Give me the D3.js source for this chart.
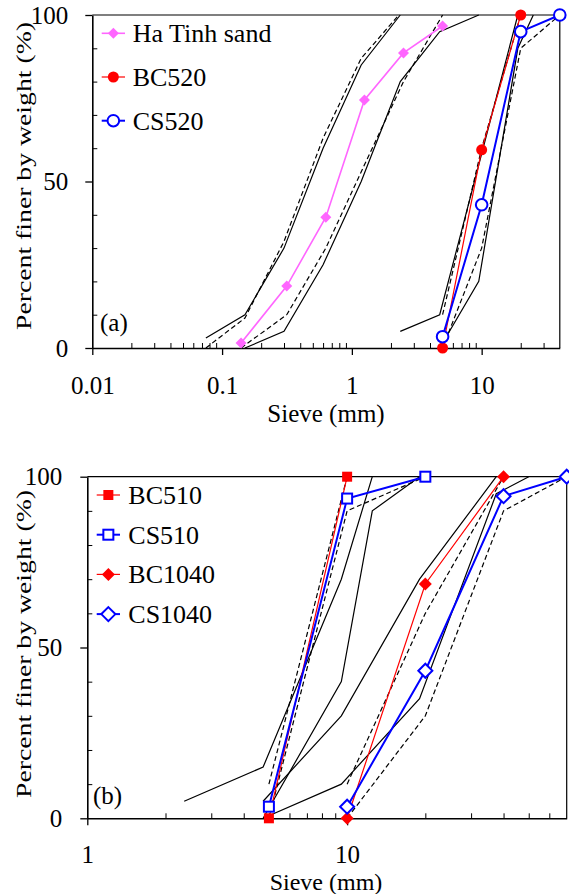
<!DOCTYPE html>
<html>
<head>
<meta charset="utf-8">
<script src="https://cdn.jsdelivr.net/npm/d3@7"></script>
<style>
  body { margin: 0; background: #fff; }
  svg, svg text { font-family: "Liberation Serif", "DejaVu Serif", "Times New Roman", serif; }
  svg { display: block; }
</style>
</head>
<body>
<svg id="chart" width="569" height="894"></svg>
<script>
'use strict';

// ---- panel (a): measured series ----
const sandSieve   = [0.14, 0.315, 0.63, 1.25, 2.5, 5];
const haTinhSand  = [1.5, 18.6, 39.3, 74.5, 88.6, 96.7];
const sieve520bc  = [5, 10, 20];
const bc520       = [0, 59.5, 100];
const sieve520cs  = [5, 10, 20, 40];
const cs520       = [3.4, 43, 95, 100];

// panel (a): grading limits [sieve, % passing]
const sandUpperSolid   = [[0.075, 3], [0.15, 10], [0.3, 30], [0.6, 60], [1.18, 85], [2.36, 100]];
const sandLowerSolid   = [[0.15, 0], [0.3, 5], [0.6, 25], [1.18, 50], [2.36, 80], [4.75, 95], [9.5, 100]];
const sandUpperDashed  = [[0.075, 0], [0.15, 9], [0.3, 32], [0.6, 63], [1.18, 87], [2.3, 100]];
const sandLowerDashed  = [[0.14, 0], [0.315, 10], [0.63, 30], [1.25, 55], [2.5, 80], [5, 100]];
const g520UpperSolid   = [[2.36, 5], [4.75, 10], [9.5, 55], [19, 100]];
const g520LowerSolid   = [[4.75, 0], [9.5, 20], [19, 90], [25, 100]];
const g520UpperDashed  = [[5, 10], [10, 60], [20, 100]];
const g520LowerDashed  = [[5, 0], [10, 30], [20, 90], [40, 100]];

// ---- panel (b): measured series ----
const sieve510bc  = [5, 10];
const bc510       = [0, 100];
const sieve510cs  = [5, 10, 20];
const cs510       = [3.4, 93.6, 100];
const sieve1040bc = [10, 20, 40];
const bc1040      = [0, 68.6, 100];
const sieve1040cs = [10, 20, 40, 70];
const cs1040      = [3.4, 43.2, 94.3, 100];

// panel (b): grading limits
const g7UpperSolid     = [[2.36, 5], [4.75, 15], [9.5, 70], [12.5, 100]];
const g7LowerSolid     = [[4.75, 0], [9.5, 40], [12.5, 90], [19, 100]];
const g467UpperSolid   = [[4.75, 5], [9.5, 30], [19, 70], [37.5, 100]];
const g467LowerSolid   = [[4.75, 0], [9.5, 10], [19, 35], [37.5, 95], [50, 100]];
const g510UpperDashed  = [[5, 10], [10, 100]];
const g510LowerDashed  = [[5, 0], [10, 90], [20, 100]];
const g1040UpperDashed = [[10, 10], [20, 60], [40, 100]];
const g1040LowerDashed = [[10, 0], [20, 30], [40, 90], [70, 100]];

const yMajor = [0, 50, 100];
const yMinor = [10, 20, 30, 40, 60, 70, 80, 90];

const svg = d3.select('#chart');
const FS = 25;
const SERIF = '"Liberation Serif", "DejaVu Serif", "Times New Roman", serif';

function minorLogTicks(lo, hi) {
  const out = [];
  for (let dec = lo; dec < hi; dec *= 10) {
    for (let m = 2; m <= 9; m++) {
      const v = +(m * dec).toPrecision(3);
      if (v < hi) out.push(v);
    }
  }
  return out;
}

function marker(sel, shape, size, fill, stroke, sw) {
  let m;
  if (shape === 'circle') {
    m = sel.append('circle').attr('r', size);
  } else if (shape === 'square') {
    m = sel.append('rect').attr('x', -size).attr('y', -size).attr('width', 2 * size).attr('height', 2 * size);
  } else {
    m = sel.append('path').attr('d', `M0,${-size}L${size},0L0,${size}L${-size},0Z`);
  }
  m.attr('fill', fill).attr('stroke', stroke).attr('stroke-width', sw);
  return m;
}

function panel(cfg) {
  const x = d3.scaleLog().domain(cfg.xDomain).range([cfg.left, cfg.right]);
  const y = d3.scaleLinear().domain([0, 100]).range([cfg.bottom, cfg.top]);
  const g = svg.append('g').attr('font-family', SERIF);

  // top / right frame
  g.append('path')
    .attr('d', `M${cfg.left},${cfg.top}H${cfg.right}V${cfg.bottom}`)
    .attr('fill', 'none').attr('stroke', '#000').attr('stroke-width', 1.2);

  // x axis: major ticks outward with labels, minor ticks inward
  const xa = g.append('g').attr('transform', `translate(0,${cfg.bottom})`)
    .call(d3.axisBottom(x).tickValues(cfg.xMajor).tickSize(7).tickSizeOuter(0).tickFormat(d => String(d)))
    .attr('font-family', SERIF).attr('font-size', FS);
  xa.select('.domain').attr('stroke-width', 1.6);
  xa.selectAll('.tick line').attr('stroke-width', 1.3);
  xa.selectAll('text').attr('y', cfg.xLabY).attr('dy', null).attr('fill', '#000');
  g.append('g').attr('transform', `translate(0,${cfg.bottom})`)
    .call(d3.axisTop(x).tickValues(minorLogTicks(cfg.xDomain[0], cfg.xDomain[1])).tickSize(5).tickFormat(''))
    .call(s => s.select('.domain').remove());

  // y axis: major outward with labels, minor inward
  const ya = g.append('g').attr('transform', `translate(${cfg.left},0)`)
    .call(d3.axisLeft(y).tickValues(yMajor).tickSize(7).tickSizeOuter(0))
    .attr('font-family', SERIF).attr('font-size', FS);
  ya.select('.domain').attr('stroke-width', 1.6);
  ya.selectAll('.tick line').attr('stroke-width', 1.3);
  ya.selectAll('text').attr('x', -cfg.ylabGap).attr('dy', '0.33em').attr('fill', '#000');
  g.append('g').attr('transform', `translate(${cfg.left},0)`)
    .call(d3.axisRight(y).tickValues(yMinor).tickSize(5).tickFormat(''))
    .call(s => s.select('.domain').remove());

  // axis titles
  g.append('text')
    .attr('x', 326).attr('y', cfg.xTitleY)
    .attr('text-anchor', 'middle').attr('font-size', cfg.xTitleFs)
    .text('Sieve (mm)');
  g.append('text')
    .attr('transform', `translate(31,${cfg.yTitleC}) rotate(-90)`)
    .attr('text-anchor', 'middle').attr('font-size', 22)
    .attr('textLength', 308).attr('lengthAdjust', 'spacingAndGlyphs')
    .text('Percent finer by weight (%)');

  // panel tag
  g.append('text').attr('x', cfg.tag[1]).attr('y', cfg.tag[2])
    .attr('font-size', FS).text(cfg.tag[0]);

  // grading limits
  const line = d3.line().x(d => x(d[0])).y(d => y(d[1]));
  cfg.limits.forEach(l => {
    g.append('path').attr('d', line(l.pts))
      .attr('fill', 'none').attr('stroke', '#000')
      .attr('stroke-width', 1.2)
      .attr('stroke-dasharray', l.dashed ? '5,3' : null);
  });

  // measured series
  cfg.series.forEach(s => {
    const pts = s.sieve.map((v, i) => [v, s.pass[i]]);
    g.append('path').attr('d', line(pts))
      .attr('fill', 'none').attr('stroke', s.color).attr('stroke-width', s.lw);
    pts.forEach(p => {
      const mg = g.append('g').attr('transform', `translate(${x(p[0])},${y(p[1])})`);
      marker(mg, s.shape, s.size, s.open ? '#fff' : s.color, s.color, s.open ? s.lw : 0);
    });
  });

  // legend
  cfg.series.forEach((s, i) => {
    const ly = cfg.legend.y0 + i * cfg.legend.dy;
    const lg = g.append('g');
    lg.append('line')
      .attr('x1', cfg.legend.x1).attr('x2', cfg.legend.x2)
      .attr('y1', ly).attr('y2', ly)
      .attr('stroke', s.color).attr('stroke-width', s.lw);
    const mg = lg.append('g').attr('transform', `translate(${(cfg.legend.x1 + cfg.legend.x2) / 2},${ly})`);
    marker(mg, s.shape, s.size, s.open ? '#fff' : s.color, s.color, s.open ? s.lw : 0);
    lg.append('text').attr('x', cfg.legend.tx).attr('y', ly + 9)
      .attr('font-size', 26).text(s.name);
  });
}

panel({
  left: 92.3, right: 559.8, top: 15, bottom: 348,
  xDomain: [0.01, 40], xMajor: [0.01, 0.1, 1, 10],
  ylabGap: 24, xLabY: 46, xTitleY: 422, xTitleFs: 25, yTitleC: 176,
  tag: ['(a)', 100, 331],
  limits: [
    { pts: sandUpperSolid }, { pts: sandLowerSolid },
    { pts: sandUpperDashed, dashed: true }, { pts: sandLowerDashed, dashed: true },
    { pts: g520UpperSolid }, { pts: g520LowerSolid },
    { pts: g520UpperDashed, dashed: true }, { pts: g520LowerDashed, dashed: true }
  ],
  series: [
    { name: 'Ha Tinh sand', sieve: sandSieve, pass: haTinhSand, color: '#ff66ff', lw: 1.6, shape: 'diamond', size: 5.5 },
    { name: 'BC520', sieve: sieve520bc, pass: bc520, color: '#ff0000', lw: 1.2, shape: 'circle', size: 5.5 },
    { name: 'CS520', sieve: sieve520cs, pass: cs520, color: '#0000ff', lw: 2, shape: 'circle', size: 5.8, open: true }
  ],
  legend: { x1: 101.7, x2: 125, tx: 132.7, y0: 33.3, dy: 43.7 }
});

panel({
  left: 87.3, right: 566.7, top: 476.7, bottom: 818.3,
  xDomain: [1, 70], xMajor: [1, 10],
  ylabGap: 25, xLabY: 44.5, xTitleY: 889.5, xTitleFs: 24, yTitleC: 644,
  tag: ['(b)', 93, 804],
  limits: [
    { pts: g7UpperSolid }, { pts: g7LowerSolid },
    { pts: g467UpperSolid }, { pts: g467LowerSolid },
    { pts: g510UpperDashed, dashed: true }, { pts: g510LowerDashed, dashed: true },
    { pts: g1040UpperDashed, dashed: true }, { pts: g1040LowerDashed, dashed: true }
  ],
  series: [
    { name: 'BC510', sieve: sieve510bc, pass: bc510, color: '#ff0000', lw: 1.2, shape: 'square', size: 5 },
    { name: 'CS510', sieve: sieve510cs, pass: cs510, color: '#0000ff', lw: 2, shape: 'square', size: 5, open: true },
    { name: 'BC1040', sieve: sieve1040bc, pass: bc1040, color: '#ff0000', lw: 1.2, shape: 'diamond', size: 6.5 },
    { name: 'CS1040', sieve: sieve1040cs, pass: cs1040, color: '#0000ff', lw: 2, shape: 'diamond', size: 7, open: true }
  ],
  legend: { x1: 96.7, x2: 120, tx: 128.3, y0: 495, dy: 39.7 }
});
</script>
</body>
</html>
